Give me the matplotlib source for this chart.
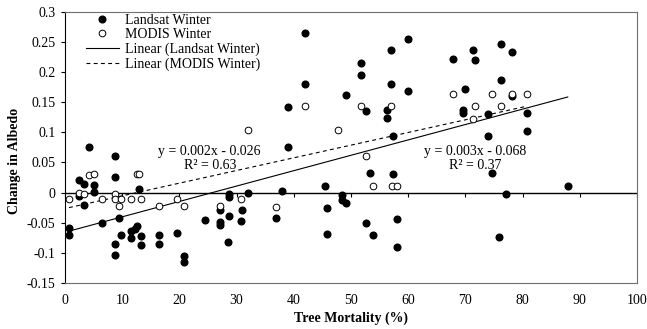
import numpy as np
import matplotlib
matplotlib.use('Agg')
import matplotlib.pyplot as plt

plt.rcParams['font.family'] = ['Liberation Serif', 'DejaVu Serif']
plt.rcParams['font.size'] = 10

# Landsat winter (filled circles)
landsat_x = [4.2, 8.7, 8.7, 2.4, 3.4, 5.0, 5.0, 2.4, 3.4, 13.0, 0.7, 0.7, 6.5, 9.4,
             9.7, 8.7, 8.7, 11.5, 11.5, 12.3, 12.6, 13.2, 13.2, 16.4, 16.4, 19.6,
             20.8, 20.8, 24.4, 39.0, 27.1, 27.1, 27.1, 28.7, 28.7, 28.7, 28.5, 30.9,
             30.7, 32.0, 37.9, 36.9, 45.4, 45.8, 45.8, 48.5, 48.5, 49.2, 41.9, 41.9,
             39.0, 49.2, 51.8, 51.8, 52.6, 57.0, 60.0, 57.0, 60.0, 56.3, 56.3, 57.4,
             67.8, 71.3, 71.7, 76.2, 78.1, 76.2, 70.0, 78.1, 69.6, 69.6, 74.0, 80.8,
             74.0, 80.8, 53.4, 57.4, 74.7, 87.9, 77.1, 52.7, 58.0, 53.9, 58.0, 75.8]
landsat_y = [0.075, 0.061, 0.026, 0.020, 0.014, 0.012, 0.001, -0.006, -0.021, 0.006,
             -0.059, -0.070, -0.051, -0.042, -0.071, -0.085, -0.104, -0.063, -0.076,
             -0.060, -0.056, -0.072, -0.087, -0.071, -0.086, -0.067, -0.106, -0.116,
             -0.046, 0.075, -0.029, -0.049, -0.054, -0.003, -0.008, -0.039, -0.082,
             -0.029, -0.047, -0.001, 0.002, -0.042, 0.010, -0.026, -0.068, -0.004,
             -0.012, -0.018, 0.264, 0.180, 0.142, 0.161, 0.215, 0.195, 0.135, 0.236,
             0.254, 0.180, 0.168, 0.137, 0.124, 0.093, 0.222, 0.236, 0.220, 0.246,
             0.233, 0.187, 0.171, 0.160, 0.136, 0.131, 0.130, 0.132, 0.093, 0.102,
             0.033, 0.030, 0.033, 0.010, -0.003, -0.050, -0.044, -0.071, -0.090, -0.074]

# MODIS winter (open circles)
modis_x = [4.2, 5.0, 12.5, 13.0, 0.7, 2.4, 3.4, 6.5, 8.7, 8.7, 9.8, 9.4, 11.5, 13.2,
           16.4, 19.6, 20.8, 27.1, 30.7, 36.9, 32.0, 47.7, 41.9, 51.8, 57.0, 67.8,
           74.6, 78.1, 80.8, 71.7, 76.2, 71.3, 53.9, 57.2, 58.0, 52.6]
modis_y = [0.029, 0.031, 0.031, 0.030, -0.010, -0.001, -0.002, -0.010, -0.002, -0.010,
           -0.010, -0.023, -0.010, -0.010, -0.023, -0.010, -0.023, -0.023, -0.011,
           -0.024, 0.103, 0.103, 0.143, 0.143, 0.143, 0.164, 0.164, 0.164, 0.164,
           0.143, 0.143, 0.122, 0.010, 0.010, 0.010, 0.060]

# linear trends (slope, intercept) as drawn
landsat_fit = (0.00255, -0.0658)
modis_fit = (0.0021, -0.0265)
landsat_eq = 'y = 0.003x - 0.068\nR² = 0.37'
modis_eq = 'y = 0.002x - 0.026\nR² = 0.63'

fig = plt.figure(figsize=(6.47, 3.29), dpi=100)
ax = fig.add_axes([0.1005, 0.1398, 0.884, 0.8252])

ax.plot(landsat_x, landsat_y, 'o', color='black', markersize=4.8,
        label='Landsat Winter', zorder=3)
ax.plot(modis_x, modis_y, 'o', markerfacecolor='white', markeredgecolor='black',
        markersize=4.8, markeredgewidth=0.7, label='MODIS Winter', zorder=4)

lx = np.array([min(landsat_x), max(landsat_x)])
ax.plot(lx, landsat_fit[0]*lx + landsat_fit[1], '-', color='black', lw=0.8,
        label='Linear (Landsat Winter)')
mx = np.array([min(modis_x), max(modis_x)])
ax.plot(mx, modis_fit[0]*mx + modis_fit[1], '--', color='black', lw=0.8,
        dashes=(3.5, 3), label='Linear (MODIS Winter)')

ax.text(25.3, 0.0565, modis_eq, ha='center', va='center', linespacing=1.1)
ax.text(71.7, 0.0565, landsat_eq, ha='center', va='center', linespacing=1.1)

ax.set_xlim(0, 100)
ax.set_ylim(-0.15, 0.3)
ax.set_xticks(np.arange(0, 101, 10))
ax.set_yticks(np.arange(-0.15, 0.31, 0.05))
ax.set_yticklabels(['-0.15', '-0.1', '-0.05', '0', '0.05', '0.1', '0.15',
                    '0.2', '0.25', '0.3'])

for side in ['top', 'right', 'bottom']:
    ax.spines[side].set_color('#707070')
ax.spines['left'].set_color('black')
ax.tick_params(axis='x', length=0, pad=8)
ax.tick_params(axis='y', direction='out', length=3, width=0.8, pad=4)

# x axis line through zero with its ticks
ax.axhline(0, color='black', lw=1.0, zorder=2)
sec = ax.secondary_xaxis(0.15 / 0.45)
sec.set_xticks(np.arange(0, 101, 10))
sec.tick_params(direction='out', length=3, width=0.8, labelbottom=False)
sec.spines['bottom'].set_visible(False)

ax.set_xlabel('Tree Mortality (%)', fontweight='bold', labelpad=3)
ax.set_ylabel('Change in Albedo', fontweight='bold')
ax.yaxis.set_label_coords(-0.077, 0.45)

ax.legend(loc='upper left', bbox_to_anchor=(0.036, 0.992), frameon=False,
          borderaxespad=0, borderpad=0, handlelength=2.4, handletextpad=0.4,
          labelspacing=0.1)

fig.savefig('out.png', dpi=100)
